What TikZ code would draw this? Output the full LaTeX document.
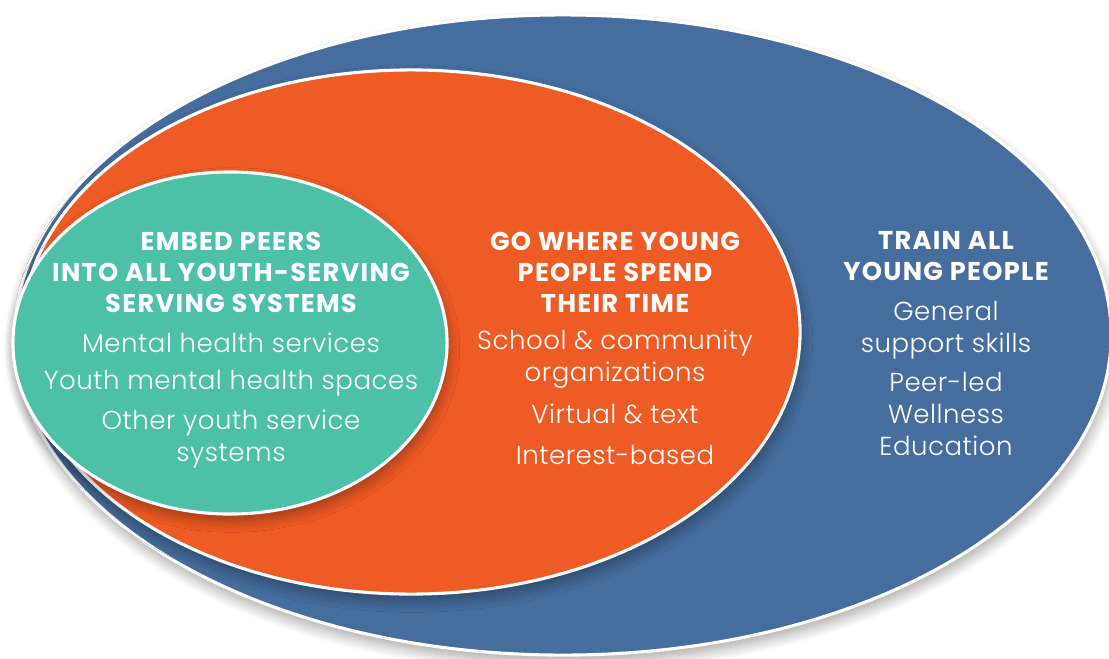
\documentclass[tikz,border=0pt]{standalone}
\usepackage{fontspec}
\setmainfont{Poppins}
\newfontfamily\lightfont{Poppins Light}[LetterSpace=2]
\newfontfamily\headfont{Poppins Bold}[LetterSpace=5]
\usetikzlibrary{shapes.geometric}
\usetikzlibrary{shadows.blur}
\usetikzlibrary{positioning}
\definecolor{trainblue}{RGB}{69,109,158}
\definecolor{goorange}{RGB}{239,91,36}
\definecolor{embedteal}{RGB}{77,192,168}
\tikzset{
	ring/.style={
		draw=white,
		line width=2.2pt,
		ellipse,
		inner sep=0pt,
		blur shadow={shadow xshift=1pt,shadow yshift=-5pt,shadow blur steps=12,shadow blur radius=8pt,shadow opacity=35},
	},
	heading/.style={
		text=white,
		align=center,
		font=\headfont\fontsize{18.3}{22}\selectfont,
	},
	entry/.style={
		text=white,
		align=center,
		font=\lightfont\fontsize{18.5}{22.8}\selectfont,
	},
}

\begin{document}
\begin{tikzpicture}[x=0.025cm,y=-0.025cm]
		\useasboundingbox (0,0) rectangle (1109,658);

		% nested circles, outermost first
		\node[ring,fill=trainblue,minimum width=27.4cm,minimum height=16cm]    (train) at (563,335) {};
		\node[ring,fill=goorange,minimum width=19.45cm,minimum height=13.1cm]  (go) at (411,332) {};
		\node[ring,fill=embedteal,minimum width=10.85cm,minimum height=8.55cm] (embed) at (230,343) {};

		% embed peers
		\node[heading] (embedhead) at (231,272) {EMBED PEERS\\INTO ALL YOUTH-SERVING\\SERVING SYSTEMS};
		\node[entry] (embedA) at (231,343) {Mental health services};
		\node[entry] (embedB) at (231,383) {Youth mental health spaces};
		\node[entry] (embedC) at (231,439) {Other youth service\\systems};

		% go where young people spend their time
		\node[heading] (gohead) at (615,272) {GO WHERE YOUNG\\PEOPLE SPEND\\THEIR TIME};
		\node[entry] (goA) at (615,359) {School \& community\\organizations};
		\node[entry] (goB) at (615,414) {Virtual \& text};
		\node[entry] (goC) at (615,455) {Interest-based};

		% train all young people
		\node[heading] (trainhead) at (946,256) {TRAIN ALL\\YOUNG PEOPLE};
		\node[entry] (trainA) at (946,330) {General\\support skills};
		\node[entry] (trainB) at (946,414) {Peer-led\\Wellness\\Education};

	\end{tikzpicture}
\end{document}
